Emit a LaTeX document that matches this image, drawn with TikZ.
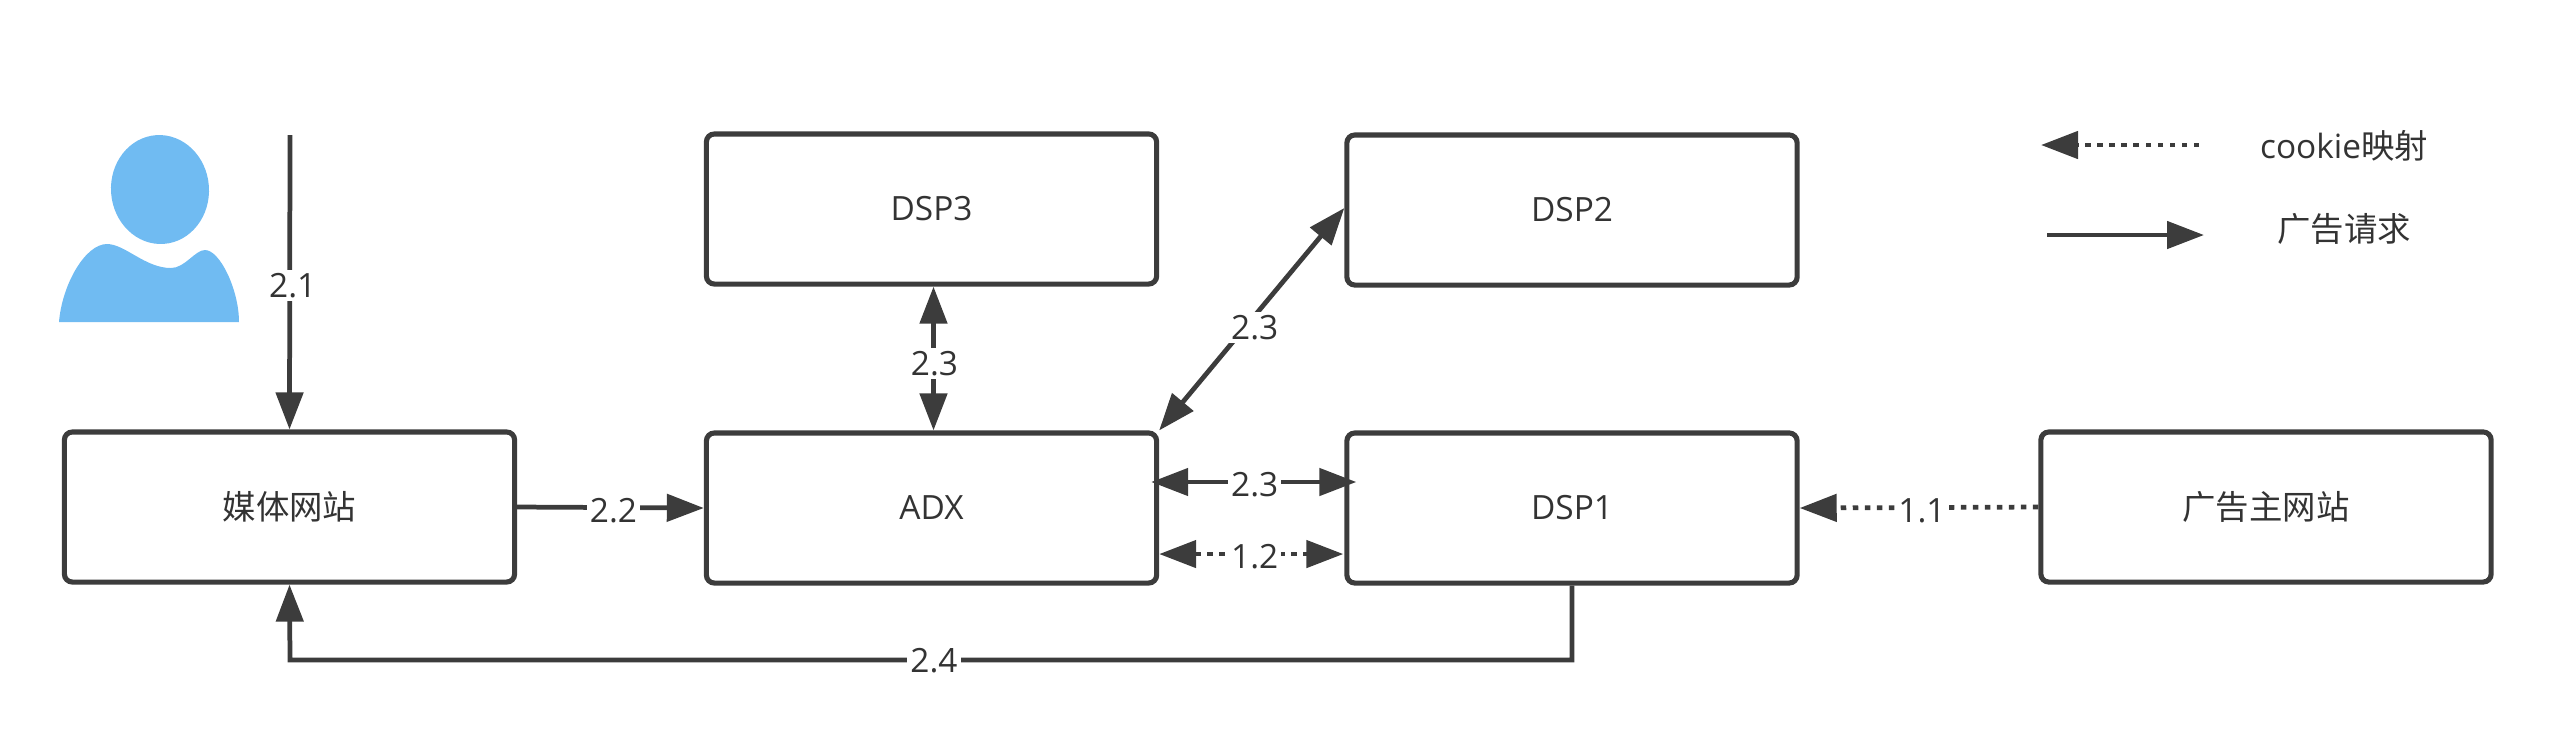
\documentclass[tikz,border=0pt]{standalone}
\usepackage{fontspec}
\setmainfont{Open Sans}
\newfontfamily\cjk{Noto Sans CJK SC}
\usepackage{xcolor}
\usetikzlibrary{positioning,arrows.meta}
\definecolor{inkgray}{HTML}{3C3C3C}
\definecolor{txtgray}{HTML}{333333}
\definecolor{userblue}{HTML}{70BBF2}
\tikzset{
    box/.style={draw=inkgray, line width=1.45pt, rounded corners=0.08cm, minimum width=4.5cm, minimum height=1.5cm, text=txtgray, font=\fontsize{9.5}{11}\selectfont},
    lbl/.style={fill=white, inner sep=0.03cm, text=txtgray, xshift=0.03cm, yshift=-0.03cm, font=\fontsize{9.5}{11}\selectfont},
    legendtxt/.style={text=txtgray, font=\fontsize{9.5}{11}\selectfont},
    req/.style={draw=inkgray, line width=1.35pt, -{Triangle[length=0.37cm,width=0.27cm]}},
    reqboth/.style={draw=inkgray, line width=1.35pt, {Triangle[length=0.37cm,width=0.27cm]}-{Triangle[length=0.37cm,width=0.27cm]}},
    map/.style={req, dash pattern=on 0.055cm off 0.065cm},
    mapboth/.style={reqboth, dash pattern=on 0.055cm off 0.065cm}
}
\begin{document}
\begin{tikzpicture}[x=0.01cm, y=-0.01cm]
    \useasboundingbox (0,0) rectangle (2567,741);
    % User figure
    \fill[userblue, rotate around={4:(160,189.5)}] (160,189.5) ellipse [x radius=49, y radius=54.5];
    \fill[userblue] (59,322) .. controls (62,285) and (85,244) .. (107,244)
        .. controls (125,244) and (145,268) .. (171,268)
        .. controls (185,268) and (195,250) .. (205,250)
        .. controls (220,250) and (239,290) .. (239,322) -- cycle;
    % Boxes
    \node[box] (media) at (289.5,507) {{\cjk 媒体网站}};
    \node[box] (adx) at (931.5,508) {ADX};
    \node[box] (dsp3) at (931.5,209) {DSP3};
    \node[box] (dsp2) at (1572,210) {DSP2};
    \node[box] (dsp1) at (1572,508) {DSP1};
    \node[box] (adsite) at (2266,507) {{\cjk 广告主网站}};
    % Free ends
    \coordinate (userend) at (290,135);
    \coordinate (busbend) at (290,660);
    \coordinate (keymapa) at (2199,145);
    \coordinate (keymapb) at (2041,145);
    \coordinate (keyreqa) at (2047,235);
    \coordinate (keyreqb) at (2204,235);
    % Ad requests
    \draw[req] (userend) -- node[lbl] (l21) {2.1} (media.north);
    \draw[req] (media.east) -- node[lbl] (l22) {2.2} (adx.west);
    \draw[reqboth, transform canvas={xshift=0.02cm}] (dsp3.south) -- node[lbl, yshift=-0.02cm, xshift=-0.02cm] (l23a) {2.3} (adx.north);
    \draw[reqboth] (adx.north east) -- node[lbl, yshift=-0.05cm] (l23b) {2.3} ([yshift=0.02cm]dsp2.west);
    \draw[reqboth, shorten <=-0.08cm, shorten >=-0.12cm] ([yshift=0.26cm]adx.east) -- node[lbl] (l23c) {2.3} ([yshift=0.26cm]dsp1.west);
    \draw[req] (dsp1.south) -- (dsp1.south |- busbend) -- node[lbl, yshift=0.02cm] (l24) {2.4} (busbend) -- (media.south);
    % Cookie mapping
    \draw[mapboth, shorten >=0.01cm] ([yshift=-0.46cm]adx.east) -- node[lbl] (l12) {1.2} ([yshift=-0.46cm]dsp1.west);
    \draw[map] (adsite.west) -- node[lbl] (l11) {1.1} (dsp1.east);
    % Legend
    \draw[map] (keymapa) -- (keymapb);
    \draw[req] (keyreqa) -- (keyreqb);
    \node[legendtxt] (keymaptxt) at (2344,146) {cookie{\cjk 映射}};
    \node[legendtxt] (keyreqtxt) at (2344,229) {{\cjk 广告请求}};
\end{tikzpicture}
\end{document}
